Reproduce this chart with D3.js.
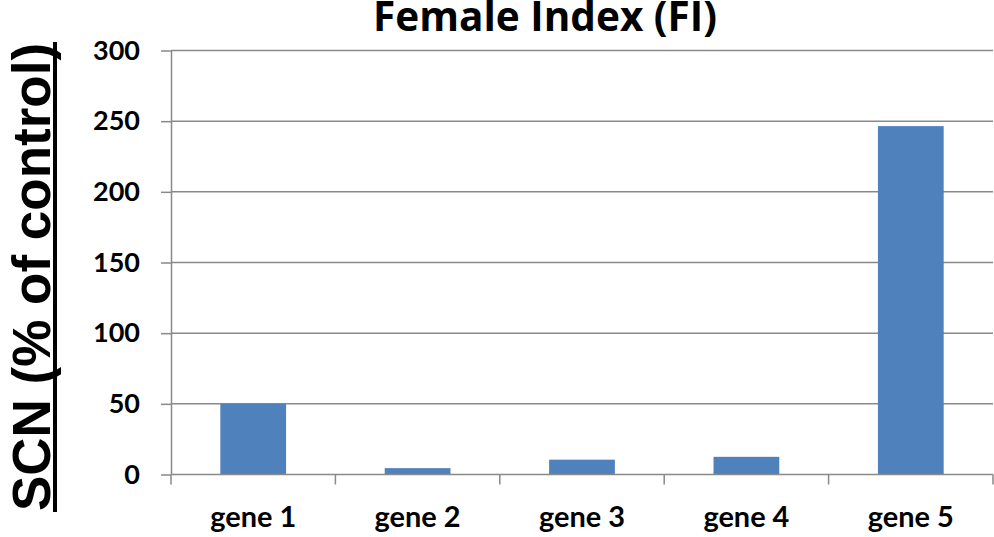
<!DOCTYPE html>
<html>
<head>
<meta charset="utf-8">
<script src="https://cdn.jsdelivr.net/npm/d3@7"></script>
<style>
  html, body { margin: 0; padding: 0; background: #fff; }
  svg { display: block; }
</style>
</head>
<body>
<svg id="chart" width="994" height="537"></svg>
<script>
// Chart data
const categories = ["gene 1", "gene 2", "gene 3", "gene 4", "gene 5"];
const values = [50, 4.5, 10.5, 12.5, 246.5];
const yTicks = [0, 50, 100, 150, 200, 250, 300];
const titleText = "Female Index (FI)";
const yLabelText = "SCN (% of control)";

const W = 994, H = 537;
const plot = { left: 171, right: 993, top: 50.5, bottom: 474.5 };
const gridColor = "#898989";
const barColor = "#4F81BD";
const labelFont = "Lato, 'Open Sans', sans-serif";

const svg = d3.select("#chart");

const x = d3.scaleBand()
  .domain(categories)
  .range([plot.left, plot.right])
  .paddingInner(0.6)
  .paddingOuter(0.3);

const y = d3.scaleLinear()
  .domain([0, 300])
  .range([plot.bottom, plot.top]);

// helper: size a text node so its rendered width matches a target width
function fitWidth(sel, target, start) {
  sel.style("font-size", start + "px");
  const w = sel.node().getComputedTextLength();
  const size = start * target / w;
  sel.style("font-size", size + "px");
  return size;
}

// horizontal gridlines
svg.append("g")
  .selectAll("line")
  .data(yTicks.filter(d => d > 0))
  .join("line")
  .attr("x1", plot.left).attr("x2", plot.right)
  .attr("y1", d => y(d)).attr("y2", d => y(d))
  .attr("stroke", gridColor)
  .attr("stroke-width", 1.5);

// bars
svg.append("g")
  .selectAll("rect")
  .data(categories.map((c, i) => ({ c, v: values[i] })))
  .join("rect")
  .attr("x", d => x(d.c))
  .attr("width", x.bandwidth())
  .attr("y", d => y(d.v))
  .attr("height", d => y(0) - y(d.v))
  .attr("fill", barColor);

// y axis
const yAxis = svg.append("g")
  .attr("transform", `translate(${plot.left},0)`)
  .call(d3.axisLeft(y).tickValues(yTicks).tickSize(10).tickPadding(21).tickSizeOuter(0));
yAxis.select(".domain").attr("stroke", gridColor).attr("stroke-width", 1.5);
yAxis.selectAll(".tick line").attr("stroke", gridColor).attr("stroke-width", 1.5);
const yText = yAxis.selectAll(".tick text")
  .attr("fill", "#000")
  .style("font-family", labelFont)
  .style("font-weight", "bold");
const ySize = fitWidth(yAxis.selectAll(".tick text").filter(d => d === 300), 47, 28);
yText.style("font-size", ySize + "px");

// x axis: baseline plus tick marks on category boundaries
const step = x.step();
const boundaries = d3.range(categories.length + 1).map(i => plot.left + i * step);
svg.append("line")
  .attr("x1", plot.left).attr("x2", plot.right)
  .attr("y1", y(0)).attr("y2", y(0))
  .attr("stroke", gridColor).attr("stroke-width", 1.5);
svg.append("g")
  .selectAll("line")
  .data(boundaries)
  .join("line")
  .attr("x1", d => d).attr("x2", d => d)
  .attr("y1", y(0)).attr("y2", y(0) + 10)
  .attr("stroke", gridColor).attr("stroke-width", 1.5);

const xLabels = svg.append("g")
  .selectAll("text")
  .data(categories)
  .join("text")
  .attr("x", d => x(d) + x.bandwidth() / 2)
  .attr("y", 527)
  .attr("text-anchor", "middle")
  .style("font-family", labelFont)
  .style("font-weight", "bold")
  .text(d => d);
const xSize = fitWidth(xLabels.filter((d, i) => i === 0), 86, 26);
xLabels.style("font-size", xSize + "px");

// title
const title = svg.append("text")
  .attr("x", 545)
  .attr("y", 31)
  .attr("text-anchor", "middle")
  .style("font-family", "'Open Sans', Lato, sans-serif")
  .style("font-weight", "bold")
  .text(titleText);
fitWidth(title, 344, 34);

// y axis label, underlined
const yLabelCenter = 277;
svg.append("text")
  .attr("transform", `translate(50,${yLabelCenter}) rotate(-90)`)
  .attr("text-anchor", "middle")
  .style("font-family", "'Liberation Sans', Arial, sans-serif")
  .style("font-weight", "bold")
  .style("font-size", "53px")
  .text(yLabelText);
svg.append("line")
  .attr("x1", 55).attr("x2", 55)
  .attr("y1", 42).attr("y2", 512)
  .attr("stroke", "#000")
  .attr("stroke-width", 4);
</script>
</body>
</html>
